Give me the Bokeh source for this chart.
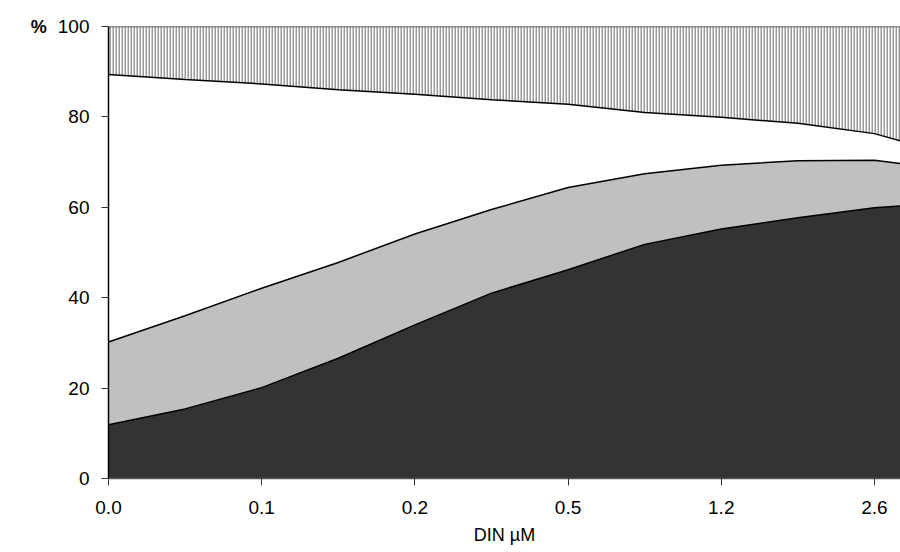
import numpy as np
from bokeh.plotting import figure
from bokeh.models import ColumnDataSource, Range1d, FixedTicker
from bokeh.embed import file_html
from bokeh.resources import INLINE

# category positions on x (tick index) and their labels
tick_pos = [0, 1, 2, 3, 4, 5]
tick_labels = ["0.0", "0.1", "0.2", "0.5", "1.2", "2.6"]

# sample positions (in tick-index units) along the x axis
x_pos = [0, 0.5, 1, 1.5, 2, 2.5, 3, 3.5, 4, 4.5, 5, 5.17]

# series values (%), bottom to top
dark = [11.9, 15.4, 20.1, 26.6, 34.0, 41.0, 46.2, 51.8, 55.2, 57.7, 59.9, 60.3]
light = [18.3, 20.6, 22.0, 21.2, 20.1, 18.5, 18.2, 15.6, 14.1, 12.6, 10.5, 9.4]
white = [59.2, 52.3, 45.2, 38.2, 30.9, 24.3, 18.4, 13.6, 10.6, 8.3, 5.9, 5.0]
hatched = [10.6, 11.7, 12.7, 14.0, 15.0, 16.2, 17.2, 19.0, 20.1, 21.4, 23.7, 25.3]

x_title = "DIN µM"
y_title = "%"

series = [dark, light, white, hatched]
cum = np.cumsum(np.array(series, dtype=float), axis=0)
base = np.zeros(len(x_pos))

src = ColumnDataSource(dict(
    x=x_pos, b0=base, c1=cum[0], c2=cum[1], c3=cum[2], c4=cum[3]))

p = figure(width=900, height=552, output_backend="svg", toolbar_location=None,
           x_range=Range1d(0, 5.17), y_range=Range1d(0, 100),
           min_border_left=108, min_border_top=26, min_border_right=0,
           min_border_bottom=74)
p.background_fill_color = "white"
p.border_fill_color = "white"
p.outline_line_color = None
p.xgrid.visible = False
p.ygrid.visible = False

p.varea(x="x", y1="b0", y2="c1", source=src, fill_color="#333333")
p.varea(x="x", y1="c1", y2="c2", source=src, fill_color="#C0C0C0")
p.varea(x="x", y1="c2", y2="c3", source=src, fill_color="#FFFFFF")
p.varea(x="x", y1="c3", y2="c4", source=src, fill_color="#FFFFFF",
        hatch_pattern="|", hatch_color="#999999", hatch_scale=3, hatch_weight=2)

for col in ["c1", "c2", "c3"]:
    p.line(x="x", y=col, source=src, line_color="black", line_width=1.5)
p.line(x="x", y="c4", source=src, line_color="#333333", line_width=1.5)

font = "Liberation Sans"
xa = p.xaxis[0]
ya = p.yaxis[0]

xa.ticker = FixedTicker(ticks=tick_pos)
xa.major_label_overrides = {t: l for t, l in zip(tick_pos, tick_labels)}
xa.major_label_standoff = 15
xa.axis_line_color = "#555555"
xa.axis_line_width = 1.5
xa.axis_label = x_title
xa.axis_label_standoff = 8
xa.axis_label_text_font_style = "normal"
xa.axis_label_text_font_size = "18px"

ya.ticker = FixedTicker(ticks=[0, 20, 40, 60, 80, 100])
ya.major_label_standoff = 12
ya.axis_line_color = "black"
ya.axis_line_width = 1.5
ya.axis_label = y_title
ya.axis_label_standoff = 8
ya.axis_label_text_font_style = "bold"
ya.axis_label_text_font_size = "18px"
ya.axis_label_orientation = "horizontal"
if "axis_label_align" in ya.properties():
    ya.axis_label_align = "end"

for ax in [xa, ya]:
    ax.axis_label_text_font = font
    ax.axis_label_text_color = "black"
    ax.major_label_text_font = font
    ax.major_label_text_font_size = "19px"
    ax.major_label_text_color = "black"
    ax.major_tick_out = 7
    ax.major_tick_in = 0
    ax.minor_tick_out = 0
    ax.minor_tick_in = 0
    ax.major_tick_line_color = "#333333"

open("out.html", "w").write(file_html(p, INLINE))
